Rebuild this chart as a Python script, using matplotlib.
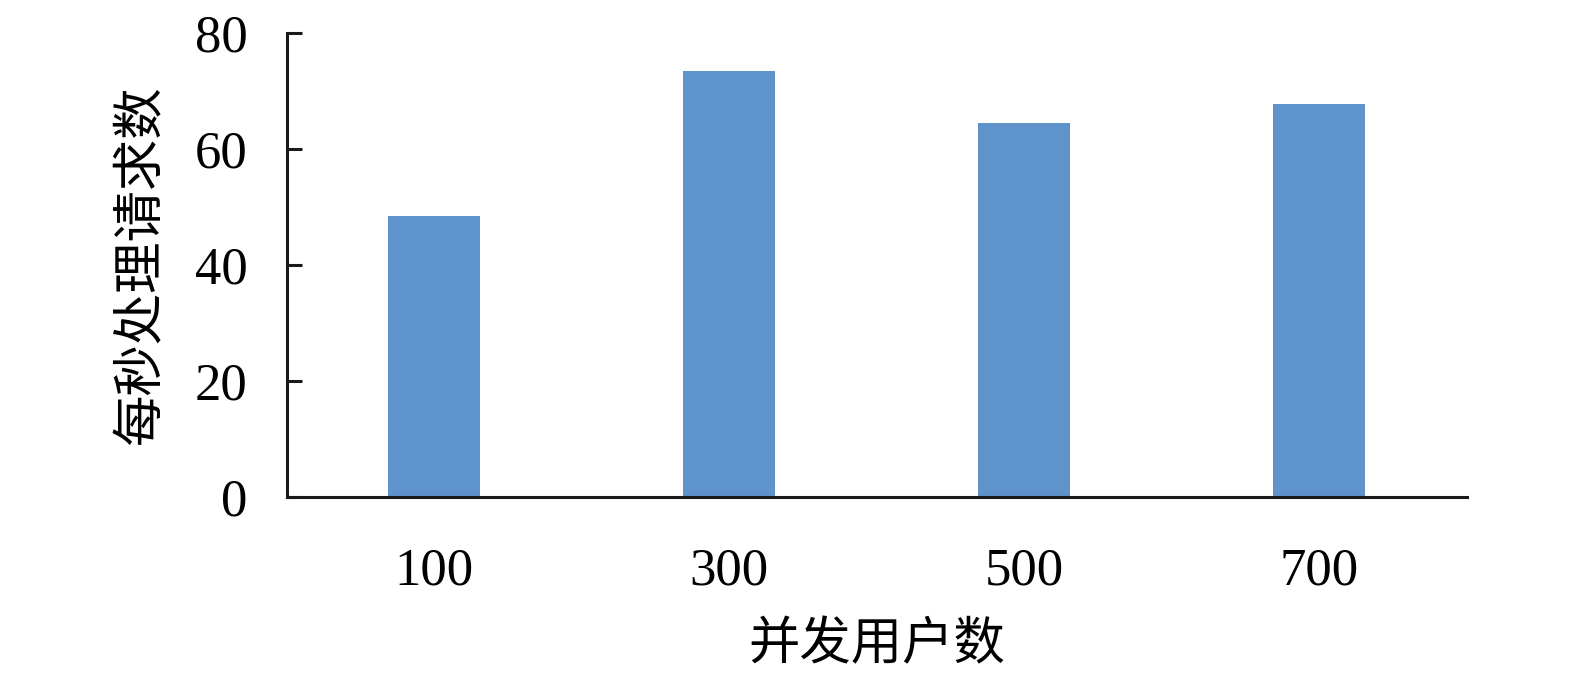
import matplotlib
matplotlib.use("Agg")
import matplotlib.pyplot as plt

categories = ["100", "300", "500", "700"]
values = [48.6, 73.5, 64.5, 67.8]
yticks = [0, 20, 40, 60, 80]
xlabel = "并发用户数"
ylabel = "每秒处理请求数"

serif = ["Liberation Serif", "DejaVu Serif"]
cjk = ["Noto Sans CJK SC", "DejaVu Sans"]

fig = plt.figure(figsize=(15.75, 6.75), dpi=100)
ax = fig.add_axes([0.182, 0.2633, 0.9312 - 0.182, 0.9504 - 0.2633])

x = list(range(len(categories)))
ax.bar(x, values, width=0.31, color="#5E93CC", zorder=2)

ax.set_xlim(-0.5, 3.5)
ax.set_ylim(0, 80)
ax.set_yticks(yticks)
ax.set_yticklabels([str(t) for t in yticks], family=serif, fontsize=38)
ax.set_xticks(x)
ax.set_xticklabels(categories, family=serif, fontsize=38)

for s in ["top", "right"]:
    ax.spines[s].set_visible(False)
for s in ["left", "bottom"]:
    ax.spines[s].set_linewidth(2.2)
    ax.spines[s].set_color("#1a1a1a")

ax.tick_params(axis="y", direction="in", length=11, width=2.2, color="#1a1a1a", pad=28)
ax.tick_params(axis="x", length=0, pad=36)

ax.set_ylabel(ylabel, family=cjk, fontsize=37, labelpad=20)
ax.set_xlabel(xlabel, family=cjk, fontsize=37, labelpad=16)

fig.savefig("out.png", dpi=100)
